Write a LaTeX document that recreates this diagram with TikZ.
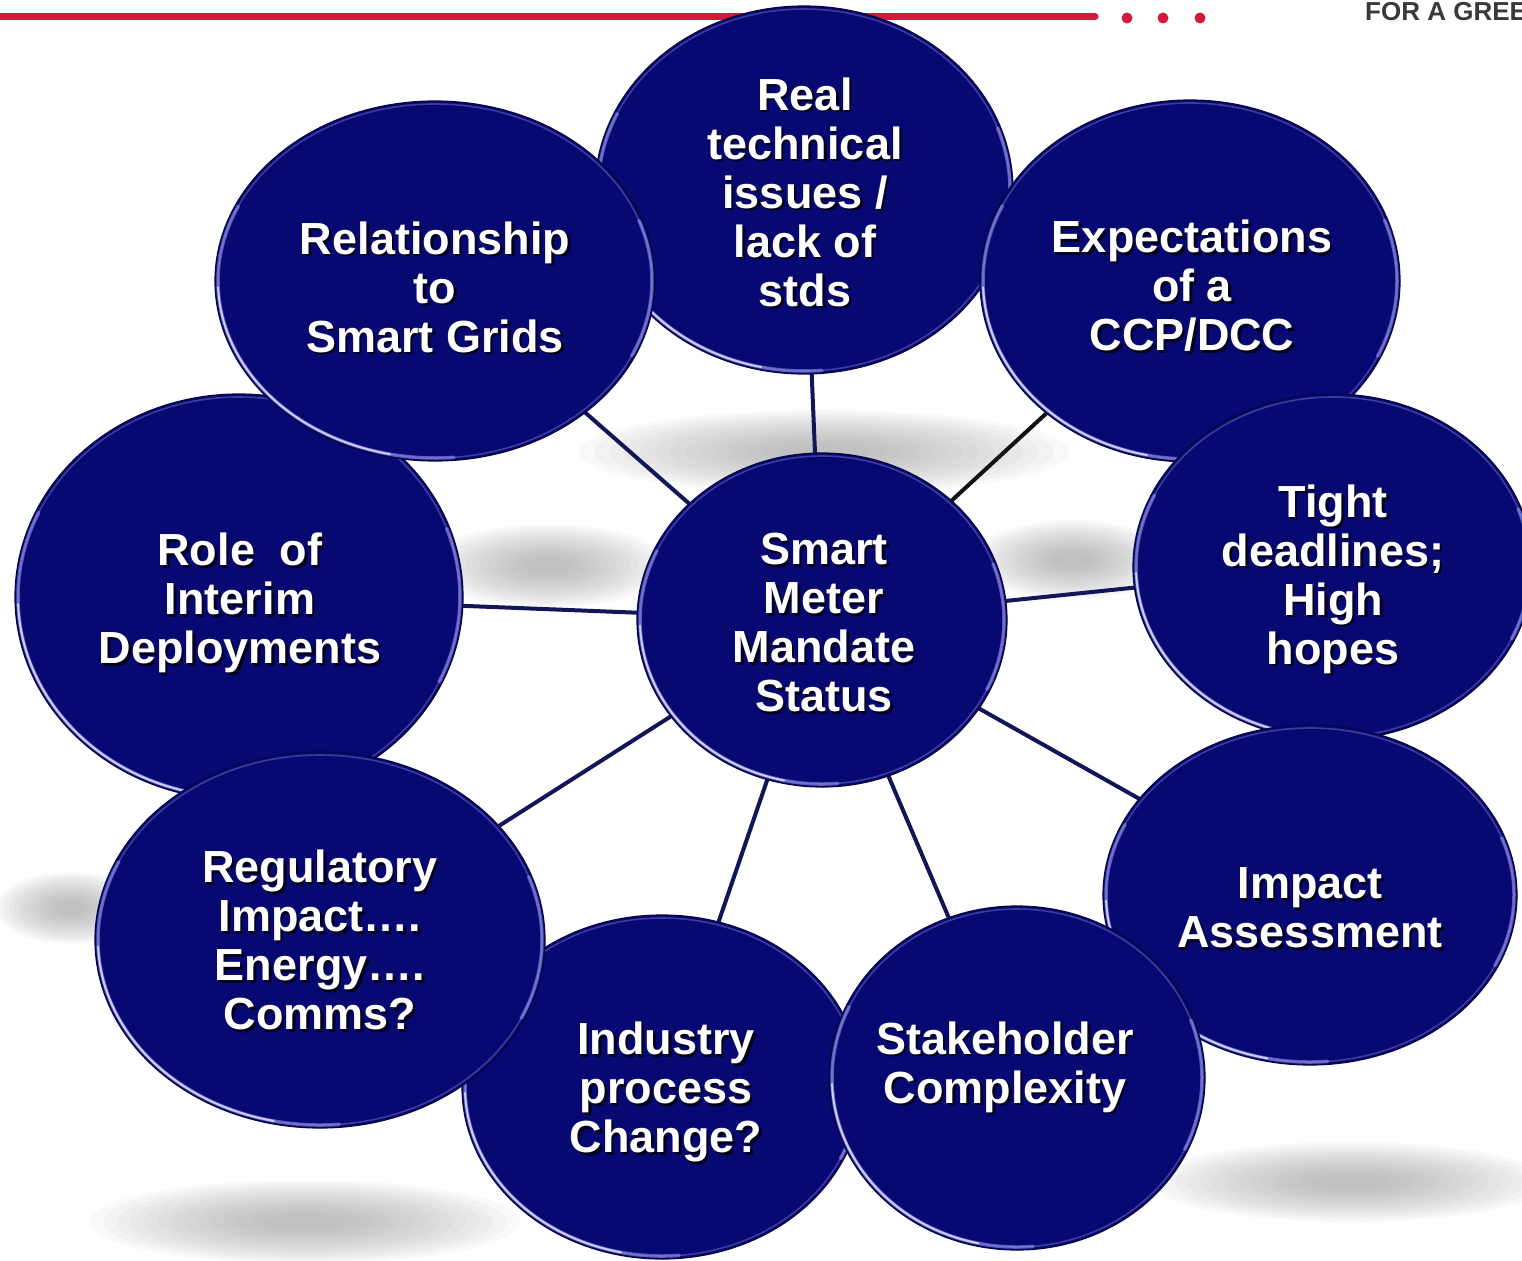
\documentclass[tikz,border=0pt]{standalone}
\usepackage{fontspec}
\setmainfont{Liberation Sans}
\usetikzlibrary{shapes.geometric}
\definecolor{navy}{RGB}{8,8,114}
\definecolor{navyedge}{RGB}{5,5,66}
\definecolor{rimc}{RGB}{170,170,255}
\definecolor{linkc}{RGB}{20,20,88}
\definecolor{linkblack}{RGB}{18,18,24}
\definecolor{redc}{RGB}{212,26,58}
\definecolor{greyt}{RGB}{58,58,58}
\definecolor{shadowc}{RGB}{150,150,150}
\pgfdeclarelayer{shad}
\pgfdeclarelayer{links}
\pgfsetlayers{shad,links,main}
\newcommand\bubble[8]{%
  \node[bubble, minimum width={2*#4pt}, minimum height={2*#5pt}] (#1) at (#2,#3) {};
  \pgfmathsetmacro\rxi{#4-3}\pgfmathsetmacro\ryi{#5-3}%
  \draw[rimring] (#2,#3) ellipse [x radius=\rxi, y radius=\ryi];
  \draw[rimsoft] (#2,#3) ++(85:{\rxi} and {\ryi}) arc[start angle=85, end angle=205, x radius=\rxi, y radius=\ryi];
  \draw[rimhard] (#2,#3) ++(102:{\rxi} and {\ryi}) arc[start angle=102, end angle=178, x radius=\rxi, y radius=\ryi];
  \draw[rimsoft] (#2,#3) ++(-20:{\rxi} and {\ryi}) arc[start angle=-20, end angle=25, x radius=\rxi, y radius=\ryi];
  \node[txtsh] (#1-sh) at ({#6+2.5},{#7+2.5}) {#8};
  \node[txt] (#1-tx) at (#6,#7) {#8};
}
% soft grey shadow: stacked translucent ellipses
\newcommand\softblob[4]{%
  \foreach \k in {0,...,13}{%
    \pgfmathsetmacro\fa{1-0.062*\k}%
    \fill[shadowstep] (#1,#2) ellipse [x radius={#3*\fa}, y radius={#4*\fa}];
  }%
}
\begin{document}
\begin{tikzpicture}[x=1pt,y=-1pt,
  bubble/.style={ellipse, fill=navy, draw=navyedge, line width=1.2pt, inner sep=0pt, outer sep=0pt},
  rimring/.style={draw=rimc, line width=1.6pt, opacity=0.32},
  rimsoft/.style={draw=rimc, line width=3.5pt, opacity=0.5, line cap=round},
  rimhard/.style={draw=rimc!55!white, line width=2pt, opacity=0.95, line cap=round},
  txt/.style={text=white, font=\fontsize{45}{49}\selectfont\bfseries, align=center, inner sep=0pt},
  txtsh/.style={text=black, text opacity=0.75, font=\fontsize{45}{49}\selectfont\bfseries, align=center, inner sep=0pt},
  link/.style={draw=linkc, line width=4pt},
  blacklink/.style={draw=linkblack, line width=4pt},
  shadowstep/.style={fill=shadowc, opacity=0.055},
  redline/.style={draw=redc, line width=7pt, line cap=round},
  reddot/.style={circle, fill=redc, minimum size=11pt, inner sep=0pt},
  brand/.style={text=greyt, font=\fontsize{26}{26}\selectfont\bfseries, inner sep=0pt, anchor=base west}
]
\useasboundingbox (0,0) rectangle (1522,1260);

% header line and soft shadows (bottom layer)
\begin{pgfonlayer}{shad}
\fill[white] (0,0) rectangle (1522,1260);
\coordinate (rl0) at (-5,17);
\coordinate (rl1) at (1095,17);
\draw[redline] (rl0) -- (rl1);
\softblob{305}{1222}{215}{42}
\softblob{70}{908}{75}{36}
\softblob{1350}{1182}{200}{40}
\softblob{1072}{560}{100}{40}
\softblob{548}{566}{120}{42}
\softblob{824}{452}{245}{42}
\end{pgfonlayer}

\node[reddot] (dot1) at (1127,18) {};
\node[reddot] (dot2) at (1163,18) {};
\node[reddot] (dot3) at (1200,18) {};
\node[brand] (brandtext) at (1365,21) {FOR A GREE};

% bubbles (drawing order gives the overlaps)
\bubble{real}{804}{190}{209}{184}{805}{192}{Real\\technical\\issues /\\lack of\\stds}
\bubble{role}{239}{597}{224}{203}{240}{603}{Role\ \ of\\Interim\\Deployments}
\bubble{relat}{435}{281}{220}{180}{435}{287}{Relationship\\to\\Smart Grids}
\bubble{expect}{1190}{281}{210}{181}{1192}{286}{Expectations\\of a\\CCP/DCC}
\bubble{tight}{1333}{567}{200}{173}{1333}{579}{Tight\\deadlines;\\High\\hopes}
\bubble{impact}{1310}{895}{207}{170}{1310}{908}{Impact\\Assessment}
\bubble{indus}{662}{1087}{200}{172}{666}{1092}{Industry\\process\\Change?}
\bubble{regul}{320}{940}{225}{188}{320}{940}{Regulatory\\Impact….\\Energy….\\Comms?}
\bubble{stake}{1017}{1078}{188}{172}{1005}{1067}{Stakeholder\\Complexity}
\bubble{ctr}{822}{620}{185}{167}{824}{623}{Smart\\Meter\\Mandate\\Status}

% connectors (middle layer, under the bubbles)
\begin{pgfonlayer}{links}
\draw[link] (ctr) -- (real);
\draw[link] (ctr) -- (relat);
\draw[blacklink] (ctr) -- (expect);
\draw[link] (ctr) -- (role);
\draw[link] (ctr) -- (tight);
\draw[link] (ctr) -- (impact);
\draw[link] (ctr) -- (regul);
\draw[link] (ctr) -- (indus);
\draw[link] (ctr) -- (stake);
\end{pgfonlayer}
\end{tikzpicture}
\end{document}
